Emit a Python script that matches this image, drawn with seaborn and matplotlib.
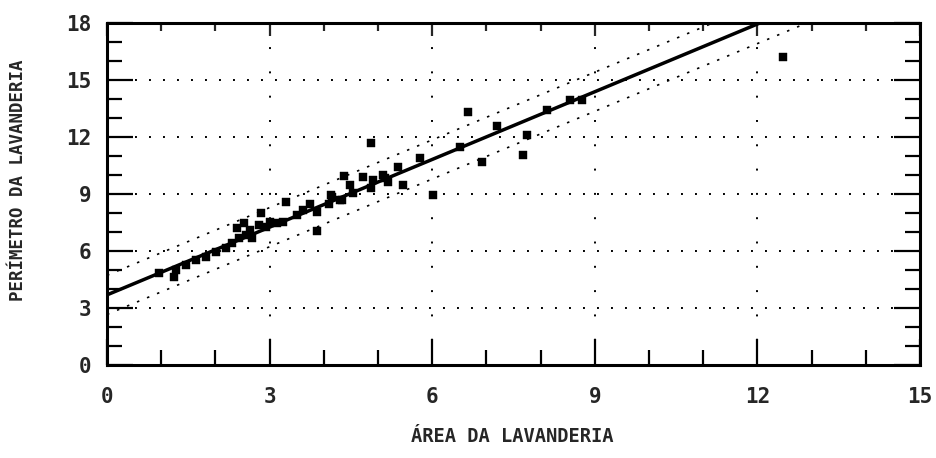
import numpy as np
import pandas as pd
import matplotlib
matplotlib.use("Agg")
import matplotlib.pyplot as plt
import seaborn as sns
from matplotlib.ticker import MultipleLocator

# ---- data ----
area = [0.96, 1.24, 1.28, 1.46, 1.65, 1.83, 2.02, 2.20, 2.31, 2.39, 2.44, 2.53,
        2.57, 2.63, 2.68, 2.81, 2.85, 2.94, 3.00, 3.13, 3.24, 3.31, 3.50, 3.61,
        3.74, 3.87, 3.87, 4.10, 4.14, 4.16, 4.29, 4.33, 4.38, 4.48, 4.53, 4.72,
        4.88, 4.88, 4.90, 5.09, 5.12, 5.18, 5.36, 5.46, 5.77, 6.01, 6.51, 6.66,
        6.92, 7.19, 7.68, 7.75, 8.12, 8.54, 8.77, 12.47]
perimetro = [4.84, 4.63, 5.00, 5.26, 5.53, 5.68, 5.95, 6.16, 6.42, 7.20, 6.68, 7.50,
             6.84, 7.10, 6.68, 7.37, 8.00, 7.26, 7.53, 7.47, 7.53, 8.60, 7.90, 8.16,
             8.50, 8.05, 7.05, 8.50, 8.95, 8.85, 8.70, 8.68, 9.95, 9.50, 9.05, 9.90,
             9.30, 11.70, 9.75, 10.00, 9.85, 9.65, 10.40, 9.50, 10.90, 8.95, 11.50, 13.30,
             10.70, 12.60, 11.05, 12.10, 13.40, 13.95, 13.95, 16.20]

fit_intercept = 3.69
fit_slope = 1.188
band_halfwidth = 1.03
x_range = [0, 15]

x_ticks = [0, 3, 6, 9, 12, 15]
y_ticks = [0, 3, 6, 9, 12, 15, 18]
x_label = "ÁREA DA LAVANDERIA"
y_label = "PERÍMETRO DA LAVANDERIA"

df = pd.DataFrame({"area": area, "perimetro": perimetro})
xf = np.array(x_range, dtype=float)
fit_df = pd.DataFrame({
    "x": xf,
    "fit": fit_intercept + fit_slope * xf,
    "upper": fit_intercept + fit_slope * xf + band_halfwidth,
    "lower": fit_intercept + fit_slope * xf - band_halfwidth,
})

# ---- figure ----
sns.set_style("white")
plt.rcParams["font.family"] = ["DejaVu Sans Mono", "DejaVu Sans"]
plt.rcParams["font.weight"] = "bold"

fig = plt.figure(figsize=(9.36, 4.58), dpi=100)
ax = fig.add_axes([107 / 936, 1 - 365 / 458, (920 - 107) / 936, (365 - 23) / 458])

ax.set_xlim(0, 15)
ax.set_ylim(0, 18)

# gridlines (sparse dotted)
ax.xaxis.grid(True, which="major", color="black", linewidth=1.4,
              linestyle=(0, (1, 11.5)))
ax.yaxis.grid(True, which="major", color="black", linewidth=1.4,
              linestyle=(0, (1, 6.2)))
ax.set_axisbelow(True)

# prediction band (dotted) and fitted line
sns.lineplot(data=fit_df, x="x", y="upper", ax=ax, color="black",
             linewidth=1.2, linestyle=(0, (1.5, 5.0)))
sns.lineplot(data=fit_df, x="x", y="lower", ax=ax, color="black",
             linewidth=1.2, linestyle=(0, (1.5, 5.0)))
sns.lineplot(data=fit_df, x="x", y="fit", ax=ax, color="black",
             linewidth=2.5)

sns.scatterplot(data=df, x="area", y="perimetro", ax=ax, marker="s",
                s=30, color="black", edgecolor="black", linewidth=0.3, zorder=5)

# ticks
ax.xaxis.set_major_locator(MultipleLocator(3))
ax.xaxis.set_minor_locator(MultipleLocator(1))
ax.yaxis.set_major_locator(MultipleLocator(3))
ax.yaxis.set_minor_locator(MultipleLocator(1))
ax.set_xticks(x_ticks)
ax.set_yticks(y_ticks)
ax.set_xticklabels([str(t) for t in x_ticks])
ax.set_yticklabels([str(t) for t in y_ticks])

ax.tick_params(axis="both", which="major", direction="in", length=19,
               width=1.6, color="black", labelsize=15, left=True, right=True,
               bottom=True, top=False)
ax.tick_params(axis="both", which="minor", direction="in", length=10.5,
               width=1.6, color="black", left=True, right=True,
               bottom=True, top=False)
ax.tick_params(axis="x", which="major", pad=16)
ax.tick_params(axis="y", which="major", pad=11)

sec = ax.secondary_xaxis("top")
sec.xaxis.set_major_locator(MultipleLocator(3))
sec.xaxis.set_minor_locator(MultipleLocator(1))
sec.tick_params(axis="x", which="major", direction="in", length=9.5,
                width=1.6, labeltop=False)
sec.tick_params(axis="x", which="minor", direction="in", length=6,
                width=1.6)
sec.spines["top"].set_visible(False)

for sp in ax.spines.values():
    sp.set_visible(True)
    sp.set_color("black")
    sp.set_linewidth(2.2)

ax.set_xlabel("")
ax.set_ylabel("")
fig.text(512 / 936, 1 - 436 / 458, x_label, ha="center", va="center",
         fontsize=13.5, fontweight="bold")
fig.text(18 / 936, 1 - 180 / 458, y_label, ha="center", va="center",
         rotation=90, fontsize=12.5, fontweight="bold")

fig.savefig("out.png", dpi=100, facecolor="white")
